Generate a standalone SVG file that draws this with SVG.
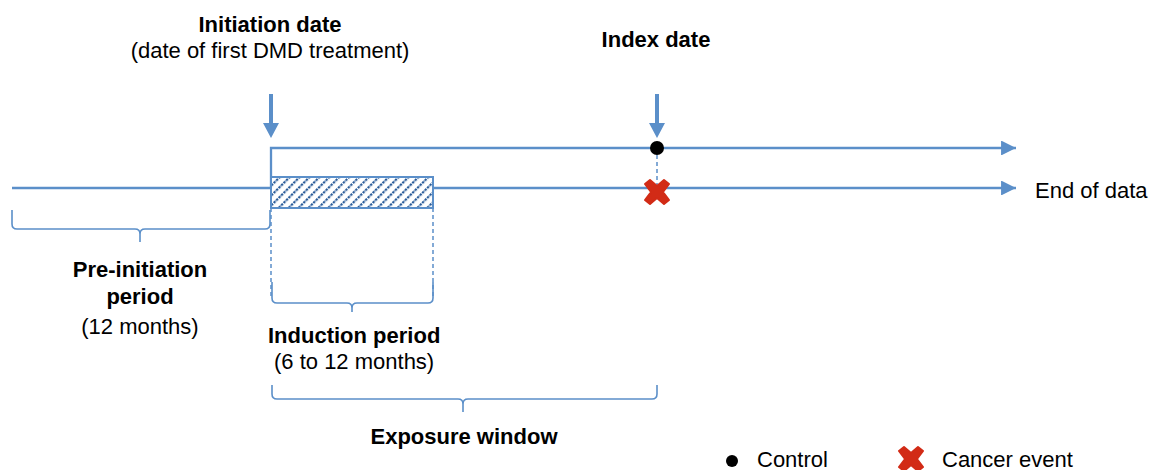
<svg xmlns="http://www.w3.org/2000/svg" width="1154" height="470" viewBox="0 0 1154 470">
<style>
.ln{stroke:#5B8FC9;stroke-width:2.3;fill:none}
.sh{stroke:#5B8FC9;stroke-width:4;fill:none}
.hd{fill:#5B8FC9}
.br{stroke:#5B8FC9;stroke-width:1.6;fill:none}
.dash{stroke:#5B8FC9;stroke-width:1.5;fill:none;stroke-dasharray:4 3}
.b{font-family:"Liberation Sans",Arial,sans-serif;font-size:22px;font-weight:bold;fill:#000}
.r{font-family:"Liberation Sans",Arial,sans-serif;font-size:22px;fill:#000}
</style>
<defs>
<marker id="ah" viewBox="0 0 10 10" refX="10" refY="5" markerWidth="6.5" markerHeight="6.5" orient="auto" markerUnits="strokeWidth">
<path d="M0,0 L10,5 L0,10 z" fill="#5B8FC9"/>
</marker>
<pattern id="hatch" width="7" height="7" patternUnits="userSpaceOnUse" patternTransform="rotate(45)">
<rect width="7" height="7" fill="#fff"/>
<line x1="1" y1="0" x2="1" y2="7" stroke="#2A5C99" stroke-width="2.4" stroke-dasharray="2.5 1"/>
</pattern>
<path id="cross" d="M-12,-8 L-7,-12 L0,-6 L7,-12 L12,-8 L6,0 L12,8 L7,12 L0,6 L-7,12 L-12,8 L-6,0 Z" fill="#D22B16" stroke="#D22B16" stroke-width="2" stroke-linejoin="round"/>
</defs>
<g id="connectors">
<line class="ln" x1="12" y1="188" x2="271" y2="188"/>
<line class="ln" x1="433" y1="188" x2="1016" y2="188" marker-end="url(#ah)"/>
<polyline class="ln" points="271,188 271,148 1016,148" marker-end="url(#ah)"/>
<line class="sh" x1="271" y1="94" x2="271" y2="125"/>
<polygon class="hd" points="263,123 279,123 271,138"/>
<line class="sh" x1="657" y1="94" x2="657" y2="125"/>
<polygon class="hd" points="649,123 665,123 657,138"/>
<line class="dash" x1="657" y1="148" x2="657" y2="190"/>
<line class="dash" x1="271" y1="208" x2="271" y2="298"/>
<line class="dash" x1="433" y1="208" x2="433" y2="298"/>
</g>
<g id="induction-box">
<rect x="271" y="177" width="162" height="31" fill="url(#hatch)" stroke="#5B8FC9" stroke-width="2"/>
</g>
<g id="control-marker"><circle cx="657" cy="148" r="7" fill="#000"/></g>
<g id="cancer-marker"><use href="#cross" x="657" y="192"/></g>
<g id="pre-initiation-bracket">
<path class="br" d="M12,210 L12,224 Q12,229 17,229 L135,229 Q140,229 140,234 L140,242 M140,234 Q140,229 145,229 L265,229 Q270,229 270,224 L270,210"/>
</g>
<g id="induction-bracket">
<path class="br" d="M272,282 L272,298 Q272,303 277,303 L347,303 Q352,303 352,308 L352,312 M352,308 Q352,303 357,303 L428,303 Q433,303 433,298 L433,282"/>
</g>
<g id="exposure-bracket">
<path class="br" d="M272,385 L272,394 Q272,399 277,399 L458,399 Q463,399 463,404 L463,412 M463,404 Q463,399 468,399 L652,399 Q657,399 657,394 L657,385"/>
</g>
<g id="initiation-label">
<text class="b" x="270" y="32" text-anchor="middle">Initiation date</text>
<text class="r" x="270" y="58" text-anchor="middle">(date of first DMD treatment)</text>
</g>
<g id="index-label"><text class="b" x="656" y="47" text-anchor="middle">Index date</text></g>
<g id="end-label"><text class="r" x="1035" y="198">End of data</text></g>
<g id="pre-initiation-label">
<text class="b" x="140" y="277" text-anchor="middle">Pre-initiation</text>
<text class="b" x="140" y="304" text-anchor="middle">period</text>
<text class="r" x="140" y="334" text-anchor="middle">(12 months)</text>
</g>
<g id="induction-label">
<text class="b" x="268" y="343">Induction period</text>
<text class="r" x="274" y="369">(6 to 12 months)</text>
</g>
<g id="exposure-label"><text class="b" x="464" y="444" text-anchor="middle">Exposure window</text></g>
<g id="legend">
<circle cx="732" cy="461" r="6" fill="#000"/>
<text class="r" x="757" y="467">Control</text>
<use href="#cross" x="911" y="459"/>
<text class="r" x="942" y="467">Cancer event</text>
</g>
</svg>
